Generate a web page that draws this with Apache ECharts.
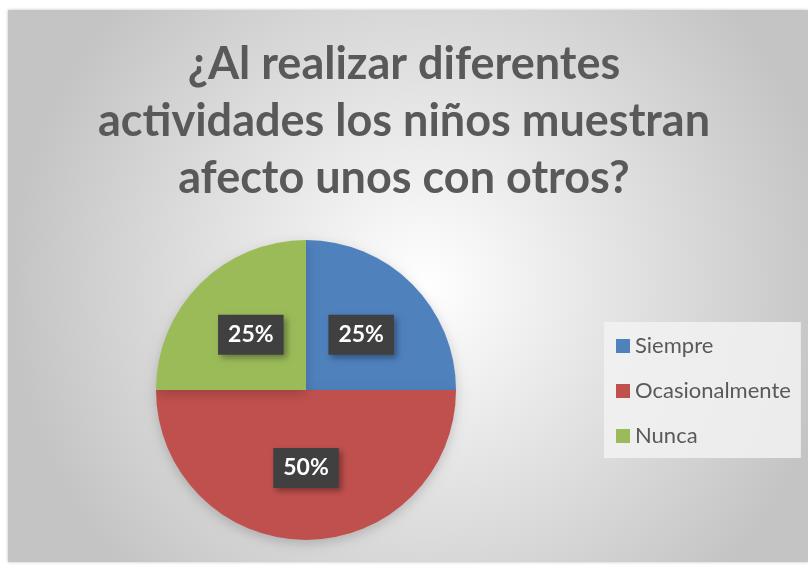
<!DOCTYPE html>
<html>
<head>
<meta charset="utf-8">
<script src="https://cdn.jsdelivr.net/npm/echarts@6/dist/echarts.min.js"></script>
<style>
  html, body { margin: 0; padding: 0; background: #fff; }
  #chart { width: 808px; height: 565px; }
</style>
</head>
<body>
<div id="chart"></div>
<script>
var categories = ['Siempre', 'Ocasionalmente', 'Nunca']
var values = [25, 50, 25]
var colors = ['#4f81bd', '#c0504d', '#9bbb59']
var titleText = '¿Al realizar diferentes\nactividades los niños muestran\nafecto unos con otros?'

var myChart = echarts.init(document.getElementById('chart'))

var pieData = categories.map(function (name, i) {
  return { name: name, value: values[i], itemStyle: { color: colors[i] } }
})

var option = {
  animation: false,
  graphic: [
    {
      type: 'rect',
      z: -10,
      silent: true,
      shape: { x: 8, y: 10, width: 800, height: 552 },
      style: {
        fill: {
          type: 'radial',
          x: 0.52, y: 0.5, r: 0.75,
          colorStops: [
            { offset: 0, color: '#ffffff' },
            { offset: 1, color: '#c4c4c4' }
          ]
        },
        shadowBlur: 3,
        shadowColor: 'rgba(0,0,0,0.25)'
      }
    }
  ],
  title: {
    text: titleText,
    left: 'center',
    top: 31,
    textStyle: {
      fontFamily: 'Lato',
      fontWeight: 'bold',
      fontSize: 45,
      lineHeight: 57,
      color: '#595959'
    }
  },
  legend: {
    orient: 'vertical',
    left: 604,
    top: 322,
    padding: [13, 10, 11, 12],
    itemWidth: 14,
    itemHeight: 14,
    itemGap: 23,
    icon: 'rect',
    backgroundColor: 'rgba(242,242,242,0.85)',
    textStyle: {
      fontFamily: 'Lato',
      fontSize: 22,
      color: '#595959'
    },
    data: categories
  },
  series: [
    {
      type: 'pie',
      center: [306, 390],
      radius: 150,
      startAngle: 90,
      clockwise: true,
      silent: true,
      itemStyle: {
        shadowBlur: 12,
        shadowOffsetY: 4,
        shadowColor: 'rgba(0,0,0,0.18)'
      },
      label: {
        show: true,
        position: 'inside',
        formatter: '{d}%',
        fontFamily: 'Lato',
        fontWeight: 'bold',
        fontSize: 23,
        color: '#ffffff',
        backgroundColor: '#404040',
        padding: [9, 10, 8, 10],
        shadowBlur: 6,
        shadowOffsetX: 3,
        shadowOffsetY: 3,
        shadowColor: 'rgba(0,0,0,0.35)'
      },
      labelLine: { show: false },
      data: pieData
    }
  ]
}

myChart.setOption(option)
</script>
</body>
</html>
